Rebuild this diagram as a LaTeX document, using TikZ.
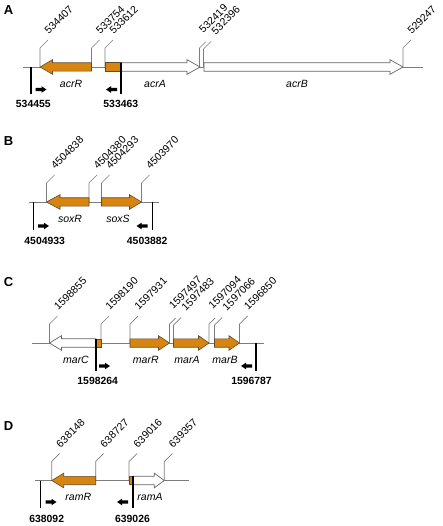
\documentclass[tikz,border=0pt]{standalone}
\usepackage{fontspec}
\setmainfont{Liberation Sans}
\definecolor{gorange}{RGB}{215,133,15}
\definecolor{gedge}{RGB}{95,75,45}
\definecolor{lgray}{RGB}{125,125,125}
\tikzset{
  baseline line/.style={draw=lgray, line width=0.9pt},
  leaderline/.style={draw=lgray, line width=0.7pt},
  orangegene/.style={fill=gorange, draw=gedge, line width=0.6pt},
  whitegene/.style={fill=white, draw=lgray!80!black, line width=0.7pt},
  primerline/.style={draw=black, line width=1.2pt},
  smallarr/.style={fill=black, draw=none},
  numlab/.style={rotate=45, anchor=south west, inner sep=0pt, font=\fontsize{10.5}{12}\selectfont},
  boldlab/.style={inner sep=0pt, font=\fontsize{10.4}{12}\selectfont\bfseries},
  genelab/.style={inner sep=0pt, font=\fontsize{10.5}{12}\selectfont\itshape},
  panellab/.style={inner sep=0pt, font=\fontsize{13}{15}\selectfont\bfseries},
}
% right-pointing gene arrow: tail, tip, y, head length, style
\newcommand{\garrR}[5]{\draw[#5] (#1,#3-4.2) -- (#2-#4,#3-4.2) -- (#2-#4,#3-7.3) -- (#2,#3) -- (#2-#4,#3+7.3) -- (#2-#4,#3+4.2) -- (#1,#3+4.2) -- cycle;}
% left-pointing gene arrow: tail, tip, y, head length, style
\newcommand{\garrL}[5]{\draw[#5] (#1,#3-4.2) -- (#2+#4,#3-4.2) -- (#2+#4,#3-7.3) -- (#2,#3) -- (#2+#4,#3+7.3) -- (#2+#4,#3+4.2) -- (#1,#3+4.2) -- cycle;}
% leader: name, x, base, h, d, text dx, text dy, text
\newcommand{\leadlab}[8]{\coordinate (#1) at (#2,#3);
  \draw[leaderline] (#1) -- ++(0,-#4) -- ++(#5,-#5);
  \node[numlab] (#1t) at (#2+#6,#3-#7) {#8};}
% the three kinds of leader
\newcommand{\leadN}[4]{\leadlab{#1}{#2}{#3}{19}{8}{9}{32}{#4}}
\newcommand{\leadF}[4]{\leadlab{#1}{#2}{#3}{19}{6}{4}{33}{#4}}
\newcommand{\leadS}[4]{\leadlab{#1}{#2}{#3}{18}{7.5}{12.5}{31.5}{#4}}
% small primer arrows: start x, y
\newcommand{\parrR}[2]{\fill[smallarr] (#1,#2-1.7) -- (#1+6,#2-1.7) -- (#1+6,#2-3.3) -- (#1+11,#2) -- (#1+6,#2+3.3) -- (#1+6,#2+1.7) -- (#1,#2+1.7) -- cycle;}
\newcommand{\parrL}[2]{\fill[smallarr] (#1+11,#2-1.7) -- (#1+5,#2-1.7) -- (#1+5,#2-3.3) -- (#1,#2) -- (#1+5,#2+3.3) -- (#1+5,#2+1.7) -- (#1+11,#2+1.7) -- cycle;}
\begin{document}
\begin{tikzpicture}[x=1pt,y=-1pt]
\useasboundingbox (0,0) rectangle (443,526);

%%%%%%%%%%%%%%%% Panel A
\node[panellab] (pA) at (8.5,10.5) {A};
\draw[baseline line] (23,67) -- (423,67);
\leadN{a1}{40}{67}{534407}
\leadN{a2}{91.5}{67}{533754}
\leadN{a3}{105}{67}{533612}
\leadF{a4}{199.5}{67}{532419}
\leadS{a5}{203.5}{67}{532396}
\leadN{a6}{403}{67}{529247}
\garrL{91.5}{40}{67}{12.5}{orangegene}
\garrR{121}{200}{67}{13}{whitegene}
\draw[orangegene] (105,62.8) rectangle (121,71.2);
\garrR{204}{403}{67}{13}{whitegene}
\node[genelab] (gacrR) at (71,83.5) {acrR};
\node[genelab] (gacrA) at (155,83.5) {acrA};
\node[genelab] (gacrB) at (297,83.5) {acrB};
\coordinate (pa1) at (31,67);
\coordinate (pa2) at (121,62.8);
\draw[primerline] (pa1) -- ++(0,27.5);
\draw[primerline] (pa2) -- (121,94.5);
\parrR{35.5}{89.5}
\parrL{106}{89.5}
\node[boldlab] (ba1) at (33.3,104) {534455};
\node[boldlab] (ba2) at (120.8,104) {533463};

%%%%%%%%%%%%%%%% Panel B
\node[panellab] (pB) at (8.5,141.5) {B};
\draw[baseline line] (29,202) -- (159,202);
\leadN{b1}{46.5}{202}{4504838}
\leadN{b2}{89}{202}{4504380}
\leadN{b3}{101.5}{202}{4504293}
\leadN{b4}{141.5}{202}{4503970}
\garrL{89}{46.5}{202}{13.5}{orangegene}
\garrR{101.5}{141.5}{202}{12}{orangegene}
\node[genelab] (gsoxR) at (70,219) {soxR};
\node[genelab] (gsoxS) at (118,219) {soxS};
\coordinate (pb1) at (33.5,202);
\coordinate (pb2) at (152.5,202);
\draw[primerline] (pb1) -- ++(0,28);
\draw[primerline] (pb2) -- ++(0,28);
\parrR{38}{226}
\parrL{136.5}{226}
\node[boldlab] (bb1) at (44.7,241) {4504933};
\node[boldlab] (bb2) at (147.2,241) {4503882};

%%%%%%%%%%%%%%%% Panel C
\node[panellab] (pC) at (8.5,282.5) {C};
\draw[baseline line] (32,343) -- (264,343);
\leadN{c1}{49.5}{343}{1598855}
\leadN{c2}{101}{343}{1598190}
\leadN{c3}{130}{343}{1597931}
\leadF{c4}{169.5}{343}{1597497}
\leadS{c5}{173.5}{343}{1597483}
\leadF{c6}{209}{343}{1597094}
\leadS{c7}{214.5}{343}{1597066}
\leadN{c8}{239.5}{343}{1596850}
\garrL{96}{49.5}{343}{12}{whitegene}
\draw[orangegene] (96,338.8) rectangle (101,347.2);
\garrR{130}{169.5}{343}{11}{orangegene}
\garrR{173.5}{209}{343}{10.5}{orangegene}
\garrR{214.5}{239.5}{343}{10.5}{orangegene}
\node[genelab] (gmarC) at (76,360) {marC};
\node[genelab] (gmarR) at (145.8,360) {marR};
\node[genelab] (gmarA) at (187,360) {marA};
\node[genelab] (gmarB) at (225,360) {marB};
\coordinate (pc1) at (96,338.8);
\coordinate (pc2) at (256,343);
\draw[primerline] (pc1) -- (96,371);
\draw[primerline] (pc2) -- (256,371);
\parrR{99}{366}
\parrL{241}{366}
\node[boldlab] (bc1) at (97.7,380.5) {1598264};
\node[boldlab] (bc2) at (251.5,380.5) {1596787};

%%%%%%%%%%%%%%%% Panel D
\node[panellab] (pD) at (8.5,426) {D};
\draw[baseline line] (35,480.5) -- (188.5,480.5);
\leadN{d1}{51.7}{480.5}{638148}
\leadN{d2}{95.7}{480.5}{638727}
\leadN{d3}{129}{480.5}{639016}
\leadN{d4}{164.3}{480.5}{639357}
\garrL{95.7}{51.7}{480.5}{12}{orangegene}
\garrR{133}{164.3}{480.5}{10}{whitegene}
\draw[orangegene] (129,476.3) rectangle (133,484.7);
\node[genelab] (gramR) at (78.3,497) {ramR};
\node[genelab] (gramA) at (150,497) {ramA};
\coordinate (pd1) at (40.7,480.5);
\coordinate (pd2) at (133,476.3);
\draw[primerline] (pd1) -- (40.7,507.5);
\draw[primerline] (pd2) -- (133,507.5);
\parrR{45.5}{502}
\parrL{117}{502}
\node[boldlab] (bd1) at (46.7,519) {638092};
\node[boldlab] (bd2) at (132.5,519) {639026};
\end{tikzpicture}
\end{document}
